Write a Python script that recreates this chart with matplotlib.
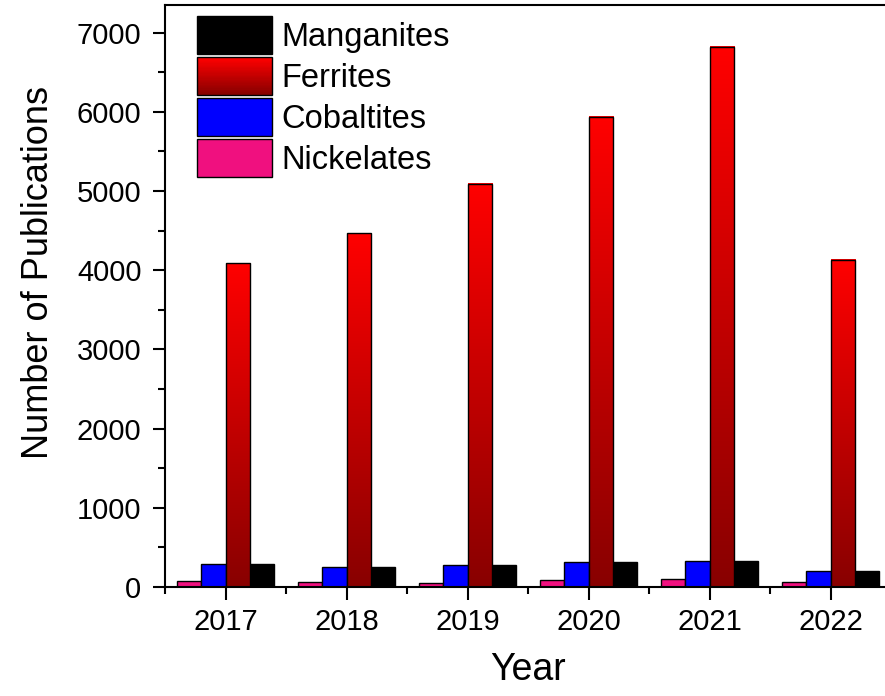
import numpy as np
import matplotlib
matplotlib.use('Agg')
import matplotlib.pyplot as plt
from matplotlib.patches import Rectangle
from matplotlib.legend_handler import HandlerBase
from matplotlib.colors import LinearSegmentedColormap
from matplotlib.ticker import MultipleLocator

plt.rcParams['font.family'] = ['Liberation Sans', 'DejaVu Sans']

# Publications per year
years = [2017, 2018, 2019, 2020, 2021, 2022]
nickelates = [70, 60, 55, 85, 100, 60]
cobaltites = [290, 255, 275, 310, 330, 205]
ferrites = [4090, 4470, 5090, 5940, 6820, 4130]
manganites = [290, 255, 275, 310, 330, 205]

redGrad = LinearSegmentedColormap.from_list('redgrad', ['#880000', '#ff0000'])


class GradientHandler(HandlerBase):
    # legend box filled with a vertical dark-to-bright gradient
    def create_artists(self, legend, orig_handle, xdescent, ydescent, width, height, fontsize, trans):
        nStrips = 30
        arts = []
        for k in range(nStrips):
            r = Rectangle((-xdescent, -ydescent + k*height/nStrips), width, height/nStrips + 0.3,
                          facecolor=redGrad(k/(nStrips-1)), edgecolor='none', transform=trans)
            arts.append(r)
        arts.append(Rectangle((-xdescent, -ydescent), width, height, facecolor='none',
                              edgecolor='black', lw=1, transform=trans))
        return arts


fig = plt.figure(figsize=(8.85, 6.96), dpi=100)
ax = fig.add_axes([165/885, 109/696, 726/885, 582/696])

x = np.array(years, dtype=float)
w = 0.2

barN = ax.bar(x - 0.3, nickelates, w, color='#f0107f', edgecolor='black', lw=1, zorder=2)
barC = ax.bar(x - 0.1, cobaltites, w, color='#0000ff', edgecolor='black', lw=1, zorder=2)
barF = ax.bar(x + 0.1, ferrites, w, color='none', edgecolor='black', lw=1, zorder=3)
barM = ax.bar(x + 0.3, manganites, w, color='black', edgecolor='black', lw=1, zorder=2)

# gradient fill for the ferrite bars
grad = np.linspace(0, 1, 256).reshape(-1, 1)
for xi, h in zip(x + 0.1, ferrites):
    ax.imshow(grad, extent=(xi - w/2, xi + w/2, 0, h), origin='lower', aspect='auto',
              cmap=redGrad, zorder=2)

ax.set_xlim(2016.5, 2022.5)
ax.set_ylim(0, 7350)
ax.set_xticks(years)
ax.xaxis.set_minor_locator(MultipleLocator(0.5))
ax.yaxis.set_major_locator(MultipleLocator(1000))
ax.yaxis.set_minor_locator(MultipleLocator(500))
ax.tick_params(which='major', direction='out', length=9, width=1.5, labelsize=21, pad=6)
ax.tick_params(which='minor', direction='out', length=5, width=1.5)
ax.tick_params(axis='y', pad=8)
for s in ax.spines.values():
    s.set_linewidth(1.5)

ax.set_xlabel('Year', fontsize=27, labelpad=12)
ax.set_ylabel('Number of Publications', fontsize=26, labelpad=15)
ax.yaxis.label.set_y(0.541)

handles = [barM, barF, barC, barN]
labels = ['Manganites', 'Ferrites', 'Cobaltites', 'Nickelates']
ax.legend(handles, labels, loc='upper left', bbox_to_anchor=(197/885, 1 - 16/696),
          bbox_transform=fig.transFigure, frameon=False, fontsize=23.5,
          handlelength=2.3, handleheight=1.4, handletextpad=0.3, labelspacing=0.1,
          borderpad=0, borderaxespad=0,
          handler_map={barF: GradientHandler()})

fig.savefig('out.png', dpi=100)
